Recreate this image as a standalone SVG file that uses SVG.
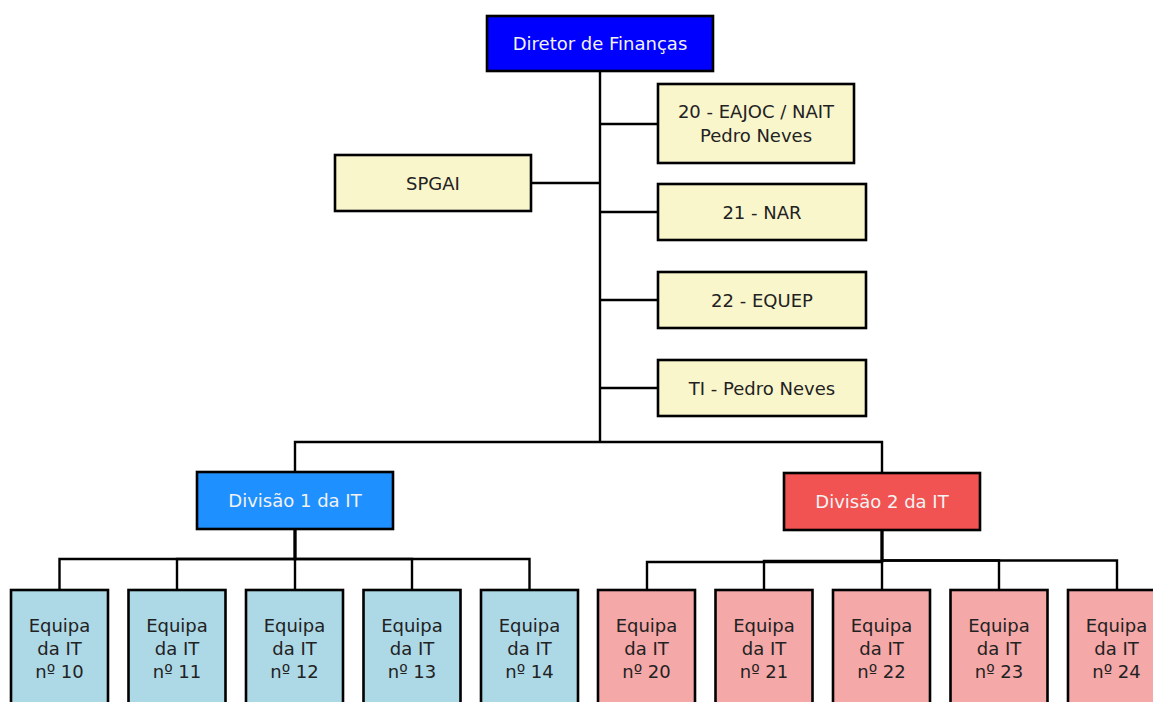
<svg xmlns="http://www.w3.org/2000/svg" width="1153" height="702" viewBox="0 0 1153 702">
<style>
  .box { stroke: #000; stroke-width: 2.6; }
  .dir { fill: #0000ff; }
  .yel { fill: #faf6cc; }
  .d1 { fill: #1e90ff; }
  .d2 { fill: #f15252; }
  .t1 { fill: #add8e6; }
  .t2 { fill: #f5a8a8; }
  text { font-family: "DejaVu Sans", Verdana, sans-serif; font-size: 18px; text-anchor: middle; fill: #222; }
  .lt { fill: #f2f2f2; }
  .edge { fill: none; stroke: #000; stroke-width: 2.4; }
</style>
<rect width="1153" height="702" fill="#fff"/>
<g id="connectors">
  <path class="edge" d="M600,71 V442"/>
  <path class="edge" d="M600,124 H658"/>
  <path class="edge" d="M600,183 H531"/>
  <path class="edge" d="M600,212 H658"/>
  <path class="edge" d="M600,300 H658"/>
  <path class="edge" d="M600,388 H658"/>
  <path class="edge" d="M600,442 H295 V472"/>
  <path class="edge" d="M600,442 H882 V473"/>
  <path class="edge" d="M295,529 V559 H59.5 V590"/>
  <path class="edge" d="M295,529 V559 H177 V590"/>
  <path class="edge" d="M295,529 V590"/>
  <path class="edge" d="M295,529 V559 H412 V590"/>
  <path class="edge" d="M295,529 V559 H529.5 V590"/>
  <path class="edge" d="M882,530 V562 H647 V590"/>
  <path class="edge" d="M882,530 V561 H764 V590"/>
  <path class="edge" d="M882,530 V590"/>
  <path class="edge" d="M882,530 V560.5 H999 V590"/>
  <path class="edge" d="M882,530 V560.5 H1117 V590"/>
</g>
<g id="director">
  <rect class="box dir" x="487" y="16" width="226" height="55"/>
  <text class="lt" x="600" y="49.5">Diretor de Finanças</text>
</g>
<g id="eajoc">
  <rect class="box yel" x="658" y="84" width="196" height="79"/>
  <text x="756" y="118">20 - EAJOC / NAIT</text>
  <text x="756" y="141.5">Pedro Neves</text>
</g>
<g id="spgai">
  <rect class="box yel" x="335" y="155" width="196" height="56"/>
  <text x="433" y="189.5">SPGAI</text>
</g>
<g id="nar">
  <rect class="box yel" x="658" y="184" width="208" height="56"/>
  <text x="762" y="218.5">21 - NAR</text>
</g>
<g id="equep">
  <rect class="box yel" x="658" y="272" width="208" height="56"/>
  <text x="762" y="306.5">22 - EQUEP</text>
</g>
<g id="ti">
  <rect class="box yel" x="658" y="360" width="208" height="56"/>
  <text x="762" y="394.5">TI - Pedro Neves</text>
</g>
<g id="div1">
  <rect class="box d1" x="197" y="472" width="196" height="57"/>
  <text class="lt" x="295" y="507">Divisão 1 da IT</text>
</g>
<g id="div2">
  <rect class="box d2" x="784" y="473" width="196" height="57"/>
  <text class="lt" x="882" y="508">Divisão 2 da IT</text>
</g>
<g id="team10">
  <rect class="box t1" x="11" y="590" width="97" height="120"/>
  <text x="59.5" y="631.5">Equipa</text><text x="59.5" y="654.5">da IT</text><text x="59.5" y="678">nº 10</text>
</g>
<g id="team11">
  <rect class="box t1" x="128.5" y="590" width="97" height="120"/>
  <text x="177" y="631.5">Equipa</text><text x="177" y="654.5">da IT</text><text x="177" y="678">nº 11</text>
</g>
<g id="team12">
  <rect class="box t1" x="246" y="590" width="97" height="120"/>
  <text x="294.5" y="631.5">Equipa</text><text x="294.5" y="654.5">da IT</text><text x="294.5" y="678">nº 12</text>
</g>
<g id="team13">
  <rect class="box t1" x="363.5" y="590" width="97" height="120"/>
  <text x="412" y="631.5">Equipa</text><text x="412" y="654.5">da IT</text><text x="412" y="678">nº 13</text>
</g>
<g id="team14">
  <rect class="box t1" x="481" y="590" width="97" height="120"/>
  <text x="529.5" y="631.5">Equipa</text><text x="529.5" y="654.5">da IT</text><text x="529.5" y="678">nº 14</text>
</g>
<g id="team20">
  <rect class="box t2" x="598" y="590" width="97" height="120"/>
  <text x="646.5" y="631.5">Equipa</text><text x="646.5" y="654.5">da IT</text><text x="646.5" y="678">nº 20</text>
</g>
<g id="team21">
  <rect class="box t2" x="715.5" y="590" width="97" height="120"/>
  <text x="764" y="631.5">Equipa</text><text x="764" y="654.5">da IT</text><text x="764" y="678">nº 21</text>
</g>
<g id="team22">
  <rect class="box t2" x="833" y="590" width="97" height="120"/>
  <text x="881.5" y="631.5">Equipa</text><text x="881.5" y="654.5">da IT</text><text x="881.5" y="678">nº 22</text>
</g>
<g id="team23">
  <rect class="box t2" x="950.5" y="590" width="97" height="120"/>
  <text x="999" y="631.5">Equipa</text><text x="999" y="654.5">da IT</text><text x="999" y="678">nº 23</text>
</g>
<g id="team24">
  <rect class="box t2" x="1068" y="590" width="97" height="120"/>
  <text x="1116.5" y="631.5">Equipa</text><text x="1116.5" y="654.5">da IT</text><text x="1116.5" y="678">nº 24</text>
</g>
</svg>
